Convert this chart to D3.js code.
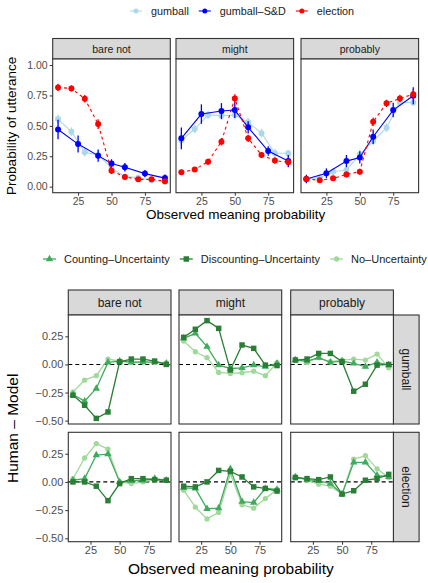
<!DOCTYPE html>
<html>
<head>
<meta charset="utf-8">
<script src="https://cdn.jsdelivr.net/npm/d3@7"></script>
<style>
  body { margin: 0; background: #fff; }
  svg text { font-family: "Liberation Sans", Arial, sans-serif; }
</style>
</head>
<body>
<script>
// ---- data ----
var facets = ["bare not", "might", "probably"];
var xTicks = [25, 50, 75];

// top chart: probability of utterance
var xObs = [10, 20, 30, 40, 50, 60, 70, 80, 90];
var xSD = [10, 25, 40, 50, 60, 75, 90];

var gumballMean = [
  [0.556, 0.452, 0.282, 0.26, 0.156, 0.082, 0.074, 0.05, 0.04],
  [0.38, 0.474, 0.589, 0.584, 0.589, 0.53, 0.44, 0.274, 0.274],
  [0.063, 0.074, 0.123, 0.137, 0.266, 0.375, 0.485, 0.693, 0.693]];
var gumballErr = [
  [0.037, 0.035, 0.035, 0.03, 0.03, 0.025, 0.025, 0.02, 0.02],
  [0.04, 0.035, 0.035, 0.035, 0.035, 0.035, 0.035, 0.035, 0.03],
  [0.02, 0.025, 0.03, 0.035, 0.04, 0.035, 0.035, 0.03, 0.03]];

var sdMean = [
  [0.47, 0.35, 0.255, 0.19, 0.16, 0.107, 0.07],
  [0.397, 0.597, 0.622, 0.63, 0.488, 0.293, 0.21],
  [0.063, 0.11, 0.21, 0.24, 0.41, 0.63, 0.748]];
var sdErr = [
  [0.08, 0.07, 0.05, 0.035, 0.035, 0.03, 0.03],
  [0.09, 0.08, 0.065, 0.065, 0.05, 0.04, 0.05],
  [0.035, 0.04, 0.05, 0.05, 0.06, 0.06, 0.07]];

var electionMean = [
  [0.816, 0.808, 0.723, 0.515, 0.13, 0.08, 0.06, 0.06, 0.045],
  [0.118, 0.14, 0.205, 0.37, 0.726, 0.397, 0.26, 0.214, 0.2],
  [0.063, 0.052, 0.068, 0.1, 0.123, 0.534, 0.685, 0.726, 0.76]];
var electionErr = [
  [0.03, 0.025, 0.03, 0.04, 0.025, 0.02, 0.02, 0.02, 0.02],
  [0.02, 0.02, 0.025, 0.03, 0.035, 0.03, 0.025, 0.025, 0.025],
  [0.02, 0.02, 0.02, 0.025, 0.025, 0.035, 0.03, 0.03, 0.04]];

// bottom chart: human - model, rows = gumball, election
var rows = ["gumball", "election"];
var countingDiff = [
  [[-0.268, -0.327, -0.214, 0.018, 0.03, 0.02, 0.02, 0.02, 0.01],
   [0.232, 0.277, 0.158, -0.006, -0.036, -0.03, -0.006, -0.02, 0.009],
   [0.039, 0.03, 0.06, 0.018, 0.03, 0.009, -0.02, 0.018, -0.006]],
  [[0.015, 0.029, 0.238, 0.247, 0.0, 0.009, 0.015, 0.029, 0.015],
   [-0.052, -0.058, -0.238, -0.233, 0.116, -0.174, -0.183, -0.058, -0.067],
   [0.044, 0.02, 0.009, -0.015, -0.108, 0.174, 0.174, 0.058, 0.044]]];
var discountingDiff = [
  [[-0.274, -0.363, -0.48, -0.423, 0.024, 0.048, 0.048, 0.03, 0.0],
   [0.241, 0.313, 0.39, 0.321, -0.05, 0.173, 0.143, -0.006, -0.01],
   [0.039, 0.048, 0.098, 0.098, 0.024, -0.238, -0.176, -0.006, 0.0]],
  [[0.0, 0.0, -0.038, -0.166, -0.015, 0.029, 0.029, 0.02, 0.015],
   [-0.038, -0.044, 0.0, 0.102, 0.093, 0.044, -0.044, -0.058, -0.081],
   [0.038, 0.029, 0.02, 0.044, -0.108, -0.078, 0.015, 0.029, 0.067]]];
var noUncDiff = [
  [[-0.244, -0.14, -0.10, 0.048, 0.03, 0.018, 0.024, 0.018, 0.012],
   [0.208, 0.113, 0.06, -0.071, -0.08, -0.074, -0.06, -0.10, 0.015],
   [0.048, 0.018, 0.06, 0.024, 0.039, 0.048, 0.039, 0.092, -0.03]],
  [[0.029, 0.212, 0.34, 0.29, 0.0, -0.015, 0.0, 0.02, 0.015],
   [-0.073, -0.224, -0.328, -0.27, 0.073, -0.203, -0.233, -0.148, -0.067],
   [0.05, 0.015, -0.02, -0.038, -0.108, 0.203, 0.233, 0.116, 0.038]]];

// ---- drawing ----
var svg = d3.select("body").append("svg")
  .attr("width", 428).attr("height", 583);

var border = "#333333", stripFill = "#D9D9D9", tickText = "#4D4D4D";

function styleAxis(g, size) {
  g.select(".domain").remove();
  g.selectAll("line").attr("stroke", border);
  g.selectAll("text").attr("fill", tickText).style("font-size", size + "px");
}

// legend laid out left to right, measured from text width
function drawLegend(y, x0, items, size) {
  var x = x0;
  items.forEach(function(it) {
    var g = svg.append("g").attr("transform", "translate(" + x + "," + y + ")");
    it.key(g);
    var t = svg.append("text").attr("x", x + 21).attr("y", y + size * 0.36)
      .style("font-size", size + "px").attr("fill", "#1A1A1A").text(it.label);
    x = x + 21 + t.node().getComputedTextLength() + 10;
  });
}

// ===== top chart =====
var topPanelsX = [52.7, 176, 301];
var topW = 117.6, topY0 = 59, topY1 = 192.7, topStrip = 20.5;
var xTop = d3.scaleLinear().domain([6, 94]).range([0, topW]);
var yTop = d3.scaleLinear().domain([-0.05, 1.05]).range([topY1, topY0]);

var topSeries = [
  { name: "gumball", color: "#ADD8E6", x: xObs, mean: gumballMean, err: gumballErr, dash: null },
  { name: "gumball\u2013S&D", color: "#0000FF", x: xSD, mean: sdMean, err: sdErr, dash: null },
  { name: "election", color: "#FF0000", x: xObs, mean: electionMean, err: electionErr, dash: "3,3" }];

facets.forEach(function(f, fi) {
  var p = svg.append("g").attr("transform", "translate(" + topPanelsX[fi] + ",0)");
  p.append("rect").attr("x", 0).attr("y", topY0 - topStrip).attr("width", topW).attr("height", topStrip)
    .attr("fill", stripFill).attr("stroke", border).attr("stroke-width", 1.1);
  p.append("text").attr("x", topW / 2).attr("y", topY0 - topStrip / 2 + 3.8)
    .attr("text-anchor", "middle").style("font-size", "10.5px").attr("fill", "#1A1A1A").text(f);
  p.append("rect").attr("x", 0).attr("y", topY0).attr("width", topW).attr("height", topY1 - topY0)
    .attr("fill", "#fff");

  topSeries.forEach(function(s) {
    var pts = s.x.map(function(x, i) { return { x: x, y: s.mean[fi][i], e: s.err[fi][i] }; });
    p.append("path").datum(pts)
      .attr("fill", "none").attr("stroke", s.color).attr("stroke-width", 1.1)
      .attr("stroke-dasharray", s.dash)
      .attr("d", d3.line().x(function(d) { return xTop(d.x); }).y(function(d) { return yTop(d.y); }));
    p.selectAll(null).data(pts).enter().append("line")
      .attr("x1", function(d) { return xTop(d.x); }).attr("x2", function(d) { return xTop(d.x); })
      .attr("y1", function(d) { return yTop(d.y - d.e); }).attr("y2", function(d) { return yTop(d.y + d.e); })
      .attr("stroke", s.color).attr("stroke-width", 1.3);
    p.selectAll(null).data(pts).enter().append("circle")
      .attr("cx", function(d) { return xTop(d.x); }).attr("cy", function(d) { return yTop(d.y); })
      .attr("r", 3).attr("fill", s.color);
  });

  p.append("rect").attr("x", 0).attr("y", topY0).attr("width", topW).attr("height", topY1 - topY0)
    .attr("fill", "none").attr("stroke", border).attr("stroke-width", 1.1);

  var ax = p.append("g").attr("transform", "translate(0," + topY1 + ")")
    .call(d3.axisBottom(xTop).tickValues(xTicks).tickSize(3).tickPadding(2));
  styleAxis(ax, 10.5);
  if (fi == 0) {
    var ay = p.append("g")
      .call(d3.axisLeft(yTop).tickValues([0, 0.25, 0.5, 0.75, 1]).tickFormat(d3.format(".2f")).tickSize(3).tickPadding(2));
    styleAxis(ay, 10.5);
  }
});

svg.append("text").attr("x", (52.7 + 418.6) / 2).attr("y", 219)
  .attr("text-anchor", "middle").style("font-size", "13.5px").attr("fill", "#000")
  .text("Observed meaning probability");
svg.append("text").attr("transform", "translate(16," + (topY0 + topY1) / 2 + ") rotate(-90)")
  .attr("text-anchor", "middle").style("font-size", "13.5px").attr("fill", "#000")
  .text("Probability of utterance");

drawLegend(11, 130, topSeries.map(function(s) {
  return { label: s.name, key: function(g) {
    g.append("line").attr("x1", 0).attr("x2", 12).attr("y1", 0).attr("y2", 0)
      .attr("stroke", s.color).attr("stroke-width", 1.1);
    g.append("circle").attr("cx", 6).attr("cy", 0).attr("r", 2.5).attr("fill", s.color);
  } };
}), 10.8);

// ===== bottom chart =====
var botPanelsX = [68.3, 179, 290.7];
var botW = 102.7, botStripH = 25, botStripW = 25.7;
var rowY = [[315, 424], [432.3, 541.7]];
var xBot = d3.scaleLinear().domain([6, 94]).range([0, botW]);

var botSeries = [
  { name: "No\u2013Uncertainty", color: "#A1D99B", values: noUncDiff, shape: d3.symbolCircle, size: 22 },
  { name: "Counting\u2013Uncertainty", color: "#41AB5D", values: countingDiff, shape: d3.symbolTriangle, size: 24 },
  { name: "Discounting\u2013Uncertainty", color: "#2A7E35", values: discountingDiff, shape: d3.symbolSquare, size: 30 }];

// strips on top
facets.forEach(function(f, fi) {
  svg.append("rect").attr("x", botPanelsX[fi]).attr("y", rowY[0][0] - botStripH)
    .attr("width", botW).attr("height", botStripH)
    .attr("fill", stripFill).attr("stroke", border).attr("stroke-width", 1.1);
  svg.append("text").attr("x", botPanelsX[fi] + botW / 2).attr("y", rowY[0][0] - botStripH / 2 + 4.3)
    .attr("text-anchor", "middle").style("font-size", "12px").attr("fill", "#1A1A1A").text(f);
});

rows.forEach(function(r, ri) {
  var yBot = d3.scaleLinear().domain([-0.53, 0.44]).range([rowY[ri][1], rowY[ri][0]]);
  var sx = botPanelsX[2] + botW;
  svg.append("rect").attr("x", sx).attr("y", rowY[ri][0])
    .attr("width", botStripW).attr("height", rowY[ri][1] - rowY[ri][0])
    .attr("fill", stripFill).attr("stroke", border).attr("stroke-width", 1.1);
  svg.append("text")
    .attr("transform", "translate(" + (sx + botStripW / 2 - 4.3) + "," + (rowY[ri][0] + rowY[ri][1]) / 2 + ") rotate(90)")
    .attr("text-anchor", "middle").style("font-size", "12px").attr("fill", "#1A1A1A").text(r);

  facets.forEach(function(f, fi) {
    var p = svg.append("g").attr("transform", "translate(" + botPanelsX[fi] + ",0)");
    p.append("rect").attr("x", 0).attr("y", rowY[ri][0]).attr("width", botW)
      .attr("height", rowY[ri][1] - rowY[ri][0]).attr("fill", "#fff");
    p.append("line").attr("x1", 0).attr("x2", botW).attr("y1", yBot(0)).attr("y2", yBot(0))
      .attr("stroke", "#000").attr("stroke-width", 1.1).attr("stroke-dasharray", "4,3");

    botSeries.forEach(function(s) {
      var pts = xObs.map(function(x, i) { return { x: x, y: s.values[ri][fi][i] }; });
      p.append("path").datum(pts)
        .attr("fill", "none").attr("stroke", s.color).attr("stroke-width", 1.3)
        .attr("d", d3.line().x(function(d) { return xBot(d.x); }).y(function(d) { return yBot(d.y); }));
      p.selectAll(null).data(pts).enter().append("path")
        .attr("transform", function(d) { return "translate(" + xBot(d.x) + "," + yBot(d.y) + ")"; })
        .attr("d", d3.symbol().type(s.shape).size(s.size))
        .attr("fill", s.color);
    });

    p.append("rect").attr("x", 0).attr("y", rowY[ri][0]).attr("width", botW)
      .attr("height", rowY[ri][1] - rowY[ri][0])
      .attr("fill", "none").attr("stroke", border).attr("stroke-width", 1.1);

    if (ri == 1) {
      var ax = p.append("g").attr("transform", "translate(0," + rowY[ri][1] + ")")
        .call(d3.axisBottom(xBot).tickValues(xTicks).tickSize(3).tickPadding(2));
      styleAxis(ax, 11);
    }
    if (fi == 0) {
      var ay = p.append("g")
        .call(d3.axisLeft(yBot).tickValues([-0.5, -0.25, 0, 0.25]).tickFormat(d3.format(".2f")).tickSize(3).tickPadding(2));
      styleAxis(ay, 11);
    }
  });
});

svg.append("text").attr("x", (68.3 + 393.4) / 2).attr("y", 574)
  .attr("text-anchor", "middle").style("font-size", "15.5px").attr("fill", "#000")
  .text("Observed meaning probability");
svg.append("text").attr("transform", "translate(18," + (rowY[0][0] + rowY[1][1]) / 2 + ") rotate(-90)")
  .attr("text-anchor", "middle").style("font-size", "15.5px").attr("fill", "#000")
  .text("Human \u2013 Model");

var legendOrder = [botSeries[1], botSeries[2], botSeries[0]];
drawLegend(259, 43, legendOrder.map(function(s) {
  return { label: s.name, key: function(g) {
    g.append("line").attr("x1", 0).attr("x2", 13).attr("y1", 0).attr("y2", 0)
      .attr("stroke", s.color).attr("stroke-width", 1.3);
    g.append("path").attr("transform", "translate(6.5,0)")
      .attr("d", d3.symbol().type(s.shape).size(s.size)).attr("fill", s.color);
  } };
}), 11);
</script>
</body>
</html>
